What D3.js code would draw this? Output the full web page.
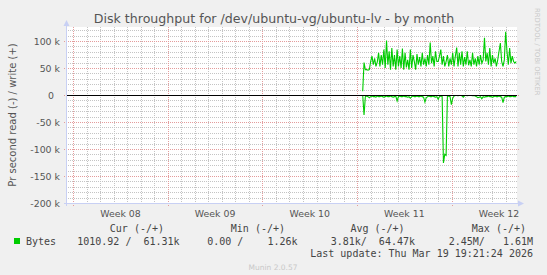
<!DOCTYPE html>
<html>
<head>
<meta charset="utf-8">
<script src="https://cdn.jsdelivr.net/npm/d3@7"></script>
<style>
  body { margin: 0; background: #F0F0F0; }
  svg { display: block; }
  text { font-family: "DejaVu Sans", sans-serif; }
  .mono { font-family: "DejaVu Sans Mono", monospace; white-space: pre; }
</style>
</head>
<body>
<script>
const WIDTH = 547
const HEIGHT = 275

// chart data (values in k bytes/s), one sample every STEP_MINUTES from DATA_START
const DATA_START = new Date(2026, 2, 8, 10, 0)
const STEP_MINUTES = 141

const WRITE_K = [7, 60, 47, 47, 46, 47, 62, 72, 56, 68, 53, 61, 78, 53, 74, 56, 84, 50,
  101, 56, 81, 47, 87, 53, 74, 47, 84, 53, 72, 50, 86, 47, 78, 51, 65, 47, 84, 50,
  74, 62, 47, 76, 56, 70, 53, 78, 56, 68, 53, 74, 56, 97, 59, 72, 53, 81, 62,
  62, 72, 84, 56, 72, 53, 62, 74, 53, 68, 56, 78, 53, 72, 88, 53, 78, 56, 81, 53,
  70, 56, 81, 55, 65, 53, 78, 56, 68, 53, 72, 56, 74, 59, 65, 106, 62, 78, 56, 87,
  53, 74, 59, 68, 53, 65, 81, 96, 62, 53, 65, 117, 81, 56, 87, 59, 72, 62, 59, 62]

const READ_K = [0, -37, -3, -2, -3, -5, -3,
  -2, -3, -3, -4, -2, -3, -3, -2, -3, -4, -3, -2, -3, -3, -2, -3, -4, -3, -2,
  -11, -3, -2, -3, -3, -2, -3, -3, -4, -3,
  -6, -3, -2, -3, -3, -2, -3, -3, -2, -3, -4,
  -13, -5, -3, -2, -3, -3, -2, -3, -4, -3,
  -8, -3, -2, -2, -126, -110, -112, -2, -2, -3, -18, -6,
  -2, -1, -1, -1.5, -1, -1, -1.5,
  -4, -1, -1, -1.5, -1, -1, -1, -1.5, -1, -2,
  -3, -5, -4, -3, -7,
  -3, -4, -3, -3, -2, -3, -3, -4, -3, -2, -3, -3, -2, -3, -4,
  -14, -4, -3, -3, -2, -3, -3, -2, -3, -3, -3]

const TIME_START = new Date(2026, 1, 14, 13, 0)
const TIME_END = new Date(2026, 2, 19, 19, 56)
const Y_MIN = -200
const Y_MAX = 125
const Y_MAJOR = [100, 50, 0, -50, -100, -150, -200]
const WEEK_LABELS = ["Week 08", "Week 09", "Week 10", "Week 11", "Week 12"]

const TITLE = "Disk throughput for /dev/ubuntu-vg/ubuntu-lv - by month"
const Y_TITLE = "Pr second read (-) / write (+)"
const LEGEND_HEAD = ["Cur (-/+)", "Min (-/+)", "Avg (-/+)", "Max (-/+)"]
const LEGEND_NAME = "Bytes"
const LEGEND_VALUES = ["1010.92 /  61.31k", "0.00 /    1.26k", "3.81k/  64.47k", "2.45M/   1.61M"]
const LAST_UPDATE = "Last update: Thu Mar 19 19:21:24 2026"

const LINE_COLOUR = "#00CC00"
const AXIS_COLOUR = "#C8D0F4"
const MINOR_COLOUR = "#c4c4c4"
const MAJOR_COLOUR = "#e49c9c"

let plot = { left: 67, right: 517, top: 27, bottom: 203 }

let svg = d3.select("body").append("svg")
  .attr("width", WIDTH)
  .attr("height", HEIGHT)

svg.append("rect")
  .attr("width", WIDTH)
  .attr("height", HEIGHT)
  .attr("fill", "#F0F0F0")

let x = d3.scaleTime()
  .domain([TIME_START, TIME_END])
  .range([plot.left, plot.right])

let y = d3.scaleLinear()
  .domain([Y_MIN, Y_MAX])
  .range([plot.bottom, plot.top + 0.5])

svg.append("rect")
  .attr("x", plot.left)
  .attr("y", plot.top)
  .attr("width", plot.right - plot.left)
  .attr("height", plot.bottom - plot.top)
  .attr("fill", "#fff")

let crisp = v => Math.round(v) + 0.5

// minor grid: every 10k and every day
let grid = svg.append("g")

grid.selectAll(".hminor")
  .data(d3.range(Y_MIN + 10, Y_MAX, 10).filter(v => v % 50 != 0))
  .enter().append("line")
  .attr("x1", plot.left - 1).attr("x2", plot.right + 1)
  .attr("y1", v => crisp(y(v))).attr("y2", v => crisp(y(v)))
  .attr("stroke", MINOR_COLOUR)
  .attr("stroke-dasharray", "1,1")
  .attr("shape-rendering", "crispEdges")

let weeks = d3.timeWeek.range(TIME_START, TIME_END)

grid.selectAll(".vminor")
  .data(d3.timeDay.range(TIME_START, TIME_END).filter(d => d.getDay() != 0))
  .enter().append("line")
  .attr("x1", d => crisp(x(d))).attr("x2", d => crisp(x(d)))
  .attr("y1", plot.top).attr("y2", plot.bottom + 1)
  .attr("stroke", MINOR_COLOUR)
  .attr("stroke-dasharray", "1,1")
  .attr("shape-rendering", "crispEdges")

// major grid: every 50k and every week
grid.selectAll(".hmajor")
  .data(Y_MAJOR)
  .enter().append("line")
  .attr("x1", plot.left - 3).attr("x2", plot.right + 2)
  .attr("y1", v => crisp(y(v))).attr("y2", v => crisp(y(v)))
  .attr("stroke", MAJOR_COLOUR)
  .attr("stroke-dasharray", "1,1")
  .attr("shape-rendering", "crispEdges")

grid.selectAll(".vmajor")
  .data(weeks)
  .enter().append("line")
  .attr("x1", d => crisp(x(d))).attr("x2", d => crisp(x(d)))
  .attr("y1", plot.top).attr("y2", plot.bottom + 3)
  .attr("stroke", MAJOR_COLOUR)
  .attr("stroke-dasharray", "1,1")
  .attr("shape-rendering", "crispEdges")

// series
let timeAt = i => new Date(DATA_START.getTime() + i * STEP_MINUTES * 60000)

let line = d3.line()
  .x((v, i) => x(timeAt(i)))
  .y(v => y(v))

svg.append("path")
  .datum(WRITE_K)
  .attr("d", line)
  .attr("fill", "none")
  .attr("stroke", LINE_COLOUR)
  .attr("stroke-width", 1.1)

svg.append("path")
  .datum(READ_K)
  .attr("d", line)
  .attr("fill", "none")
  .attr("stroke", LINE_COLOUR)
  .attr("stroke-width", 1.1)

// zero line
svg.append("line")
  .attr("x1", plot.left).attr("x2", plot.right)
  .attr("y1", crisp(y(0))).attr("y2", crisp(y(0)))
  .attr("stroke", "#000")
  .attr("shape-rendering", "crispEdges")

// axes with arrows
let axes = svg.append("g")
axes.append("line")
  .attr("x1", plot.left - 0.5).attr("x2", plot.left - 0.5)
  .attr("y1", plot.bottom + 3).attr("y2", plot.top - 3)
  .attr("stroke", AXIS_COLOUR)
axes.append("line")
  .attr("x1", plot.left - 3).attr("x2", plot.right + 2)
  .attr("y1", plot.bottom + 0.5).attr("y2", plot.bottom + 0.5)
  .attr("stroke", AXIS_COLOUR)
axes.append("path")
  .attr("d", `M${plot.left - 3.5},${plot.top - 1}L${plot.left + 2.5},${plot.top - 1}L${plot.left - 0.5},${plot.top - 7}Z`)
  .attr("fill", AXIS_COLOUR)
axes.append("path")
  .attr("d", `M${plot.right + 1},${plot.bottom - 2.5}L${plot.right + 1},${plot.bottom + 3.5}L${plot.right + 7},${plot.bottom + 0.5}Z`)
  .attr("fill", AXIS_COLOUR)

// y tick labels
svg.selectAll(".ylab")
  .data(Y_MAJOR)
  .enter().append("text")
  .attr("x", 60)
  .attr("y", v => y(v) + 3.5)
  .attr("text-anchor", "end")
  .style("white-space", "pre")
  .style("font-size", "9.4px")
  .attr("fill", "#555")
  .text(v => v == 0 ? "0  " : `${v} k`)

// week labels, centred in each week
svg.selectAll(".xlab")
  .data(weeks)
  .enter().append("text")
  .attr("x", d => x(d3.timeHour.offset(d, 84)))
  .attr("y", 216.5)
  .attr("text-anchor", "middle")
  .style("font-size", "9.4px")
  .attr("fill", "#555")
  .text((d, i) => WEEK_LABELS[i])

svg.append("text")
  .attr("x", 274)
  .attr("y", 23)
  .attr("text-anchor", "middle")
  .style("font-size", "12.6px")
  .attr("fill", "#555")
  .text(TITLE)

svg.append("text")
  .attr("transform", `translate(15.5, ${(plot.top + plot.bottom) / 2}) rotate(-90)`)
  .attr("text-anchor", "middle")
  .style("font-size", "10px")
  .attr("fill", "#555")
  .text(Y_TITLE)

svg.append("text")
  .attr("transform", "translate(535, 8) rotate(90)")
  .style("font-size", "6.8px")
  .attr("fill", "#c8c8c8")
  .text("RRDTOOL / TOBI OETIKER")

// legend
let headEnds = [164, 285, 404.6, 526]
let valueEnds = [179.6, 297.5, 415, 533]

svg.selectAll(".head")
  .data(LEGEND_HEAD)
  .enter().append("text")
  .attr("class", "mono")
  .attr("x", (d, i) => headEnds[i])
  .attr("y", 232.3)
  .attr("text-anchor", "end")
  .style("font-size", "10px")
  .attr("fill", "#444")
  .text(d => d)

svg.append("rect")
  .attr("x", 14).attr("y", 238)
  .attr("width", 6).attr("height", 6)
  .attr("fill", LINE_COLOUR)

svg.append("text")
  .attr("class", "mono")
  .attr("x", 26)
  .attr("y", 244.5)
  .style("font-size", "10px")
  .attr("fill", "#444")
  .text(LEGEND_NAME)

svg.selectAll(".vals")
  .data(LEGEND_VALUES)
  .enter().append("text")
  .attr("class", "mono")
  .attr("x", (d, i) => valueEnds[i])
  .attr("y", 244.5)
  .attr("text-anchor", "end")
  .style("font-size", "10px")
  .attr("fill", "#444")
  .text(d => d)

svg.append("text")
  .attr("class", "mono")
  .attr("x", 533)
  .attr("y", 257)
  .attr("text-anchor", "end")
  .style("font-size", "10px")
  .attr("fill", "#444")
  .text(LAST_UPDATE)

svg.append("text")
  .attr("x", 273)
  .attr("y", 270)
  .attr("text-anchor", "middle")
  .style("font-size", "7.5px")
  .attr("fill", "#c8c8c8")
  .text("Munin 2.0.57")
</script>
</body>
</html>
